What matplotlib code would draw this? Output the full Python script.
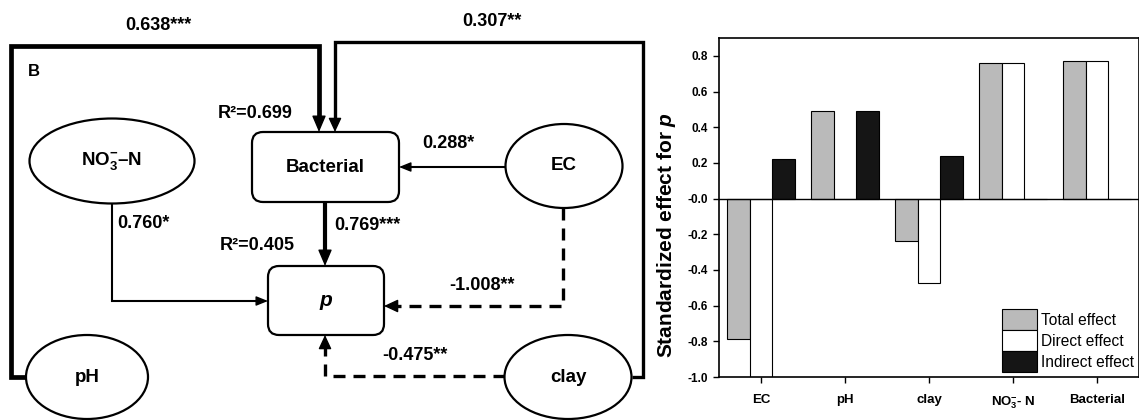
import numpy as np
import matplotlib
matplotlib.use("Agg")
import matplotlib.pyplot as plt
from matplotlib.patches import Ellipse, FancyBboxPatch, Patch

plt.rcParams['font.family'] = ['Liberation Sans', 'DejaVu Sans']
plt.rcParams['mathtext.fontset'] = 'custom'
plt.rcParams['mathtext.rm'] = 'Liberation Sans:bold'
plt.rcParams['mathtext.bf'] = 'Liberation Sans:bold'
plt.rcParams['mathtext.it'] = 'Liberation Sans:italic:bold'
plt.rcParams['mathtext.default'] = 'regular'

# ---------------- data ----------------
categories = ['EC', 'pH', 'clay', r'NO$_3^{-}$- N', 'Bacterial']
total_effect = [-0.787, 0.491, -0.239, 0.760, 0.769]
direct_effect = [-1.008, 0.0, -0.475, 0.760, 0.769]
indirect_effect = [0.221, 0.491, 0.236, 0.0, 0.0]
series_names = ['Total effect', 'Direct effect', 'Indirect effect']

path_labels = ['0.638***', '0.307**', '0.288*', '0.760*', '0.769***', '-1.008**', '-0.475**']
r2_labels = ['R²=0.699', 'R²=0.405']
node_names = [r'NO$_3^{-}$–N', 'Bacterial', 'EC', 'p', 'pH', 'clay']

W, H = 1139, 420
fig = plt.figure(figsize=(W / 100, H / 100), dpi=100)

# ---------------- path diagram (pixel layout) ----------------
ax0 = fig.add_axes([0, 0, 1, 1])
ax0.set_xlim(0, W)
ax0.set_ylim(H, 0)
ax0.axis('off')

ells = {node_names[0]: (112, 161, 165, 85),
        node_names[2]: (564, 166, 117, 84),
        node_names[4]: (87, 377, 122, 84),
        node_names[5]: (568, 377, 127, 84)}
for name, (cx, cy, w, h) in ells.items():
    ax0.add_patch(Ellipse((cx, cy), w, h, fc='white', ec='black', lw=1.6, zorder=3))
    ax0.text(cx, cy, name, ha='center', va='center', fontsize=13.5, fontweight='bold', zorder=4)

boxes = {node_names[1]: (252, 132, 147, 70), node_names[3]: (268, 266, 116, 69)}
for name, (x, y, w, h) in boxes.items():
    ax0.add_patch(FancyBboxPatch((x, y), w, h, boxstyle='round,pad=0,rounding_size=11',
                                 fc='white', ec='black', lw=1.6, zorder=3))
    if name == 'p':
        ax0.text(x + w / 2, y + h / 2, 'p', ha='center', va='center', fontsize=15,
                 fontweight='bold', fontstyle='italic', zorder=4)
    else:
        ax0.text(x + w / 2, y + h / 2, name, ha='center', va='center', fontsize=13.5,
                 fontweight='bold', zorder=4)


def draw_path(pts, lw, dashed=False, hl=11, hw=5):
    pts = np.array(pts, dtype=float)
    end = pts[-1]
    prev = pts[-2]
    d = (end - prev) / np.linalg.norm(end - prev)
    start_head = end - d * hl
    line = np.vstack([pts[:-1], start_head])
    ls = (0, (3.6, 2.4)) if dashed else '-'
    ax0.plot(line[:, 0], line[:, 1], color='black', lw=lw, ls=ls,
             solid_joinstyle='miter', solid_capstyle='butt', dash_capstyle='butt', zorder=2)
    scale = 100 / 72.0
    ax0.annotate('', xy=end, xytext=start_head - d * 1,
                 arrowprops=dict(arrowstyle='-|>,head_length=%.2f,head_width=%.2f' % (hl / 10 / scale, hw / 10 / scale),
                                 mutation_scale=10, lw=1.0, color='black', shrinkA=0, shrinkB=0),
                 zorder=2)


draw_path([(26, 377), (11, 377), (11, 46), (319, 46), (319, 132)], lw=3.4, hl=14, hw=6)
draw_path([(632, 377), (643, 377), (643, 42), (335, 42), (335, 132)], lw=2.4, hl=12, hw=5.5)
draw_path([(505, 167), (399, 167)], lw=1.5, hl=10, hw=4)
draw_path([(112, 203), (112, 301), (268, 301)], lw=1.5, hl=10, hw=4)
draw_path([(325, 202), (325, 266)], lw=3.0, hl=14, hw=6)
draw_path([(563, 208), (563, 306), (384, 306)], lw=2.4, dashed=True, hl=12, hw=5.5)
draw_path([(505, 376), (325, 376), (325, 335)], lw=2.4, dashed=True, hl=12, hw=5.5)

label_pos = [(158, 25), (492, 22), (448, 143), (143, 223), (367, 225), (482, 286), (415, 355)]
for lab, (x, y) in zip(path_labels, label_pos):
    ax0.text(x, y, lab, ha='center', va='center', fontsize=13, fontweight='bold')
for lab, (x, y) in zip(r2_labels, [(255, 113), (257, 245)]):
    ax0.text(x, y, lab, ha='center', va='center', fontsize=13, fontweight='bold')
ax0.text(34, 72, 'B', ha='center', va='center', fontsize=12, fontweight='bold')

# ---------------- bar chart ----------------
left, right, top, bottom = 719, 1139, 38, 377
ax = fig.add_axes([left / W, (H - bottom) / H, (right - left) / W, (bottom - top) / H])
x = np.arange(len(categories))
bw = 0.27
ax.bar(x - bw, total_effect, bw, color='#bababa', edgecolor='black', lw=0.8, zorder=2)
ax.bar(x, direct_effect, bw, color='white', edgecolor='black', lw=0.8, zorder=2)
ax.bar(x + bw, indirect_effect, bw, color='#151515', edgecolor='black', lw=0.8, zorder=2)
ax.axhline(0, color='black', lw=1.0, zorder=3)
ax.set_xlim(-0.5, 4.5)
ax.set_ylim(-1.0, 0.9)
ax.set_yticks(np.arange(-1.0, 0.81, 0.2))
ax.set_yticklabels(['%.1f' % v for v in np.arange(-1.0, 0.81, 0.2)], fontsize=8.5, fontweight='bold')
ax.set_xticks(x)
ax.set_xticklabels(categories, fontsize=9.5, fontweight='bold')
ax.tick_params(axis='both', direction='out', length=4.5, width=1.0)
ax.tick_params(axis='x', pad=8)
for s in ax.spines.values():
    s.set_linewidth(1.2)
ax.set_ylabel(r'Standardized effect for $\mathit{p}$', fontsize=15, fontweight='bold')
ax.yaxis.set_label_coords(-0.098, 0.42)

handles = [Patch(fc='#bababa', ec='black', lw=0.8),
           Patch(fc='white', ec='black', lw=0.8),
           Patch(fc='#151515', ec='black', lw=0.8)]
ax.legend(handles, series_names, loc='lower right', frameon=False, fontsize=11.2,
          handlelength=2.3, handleheight=1.7, labelspacing=0.0, handletextpad=0.25,
          borderaxespad=0.3, borderpad=0.0)

fig.savefig('out.png', dpi=100)
